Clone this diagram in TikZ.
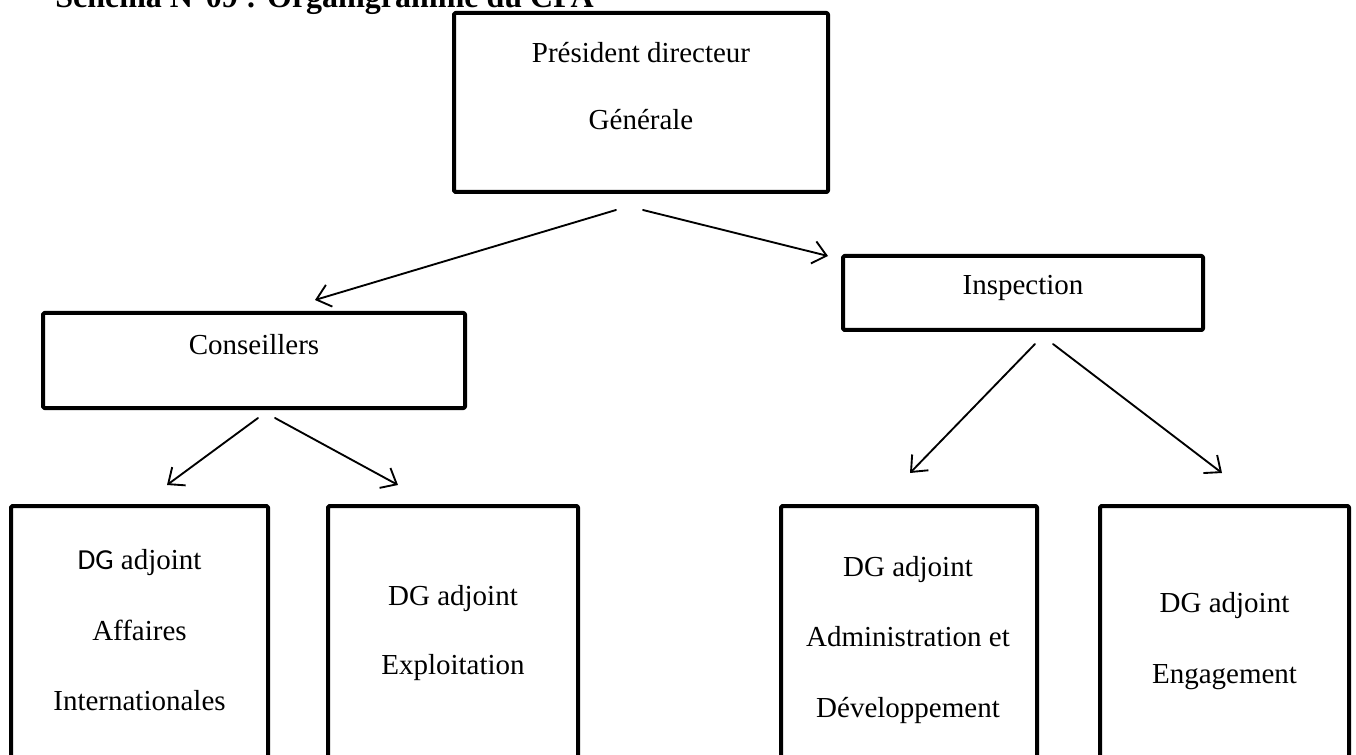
\documentclass[tikz,border=0pt]{standalone}
\usepackage{fontspec}
\setmainfont{Liberation Serif}
\newfontfamily\dgfont{Carlito}
\usetikzlibrary{arrows.meta,fit}
\begin{document}
\begin{tikzpicture}[x=0.75pt,y=-0.75pt,
  box/.style={draw, line width=3pt, line join=round, rounded corners=1pt, inner sep=0pt},
  lbl/.style={anchor=base, inner sep=0pt, font=\fontsize{21.75}{26}\selectfont},
  ttl/.style={anchor=base west, inner sep=0pt, font=\fontsize{24}{28}\selectfont\bfseries},
  link/.style={line width=1.4pt, line cap=round,
    -{Straight Barb[length=10pt,width=17pt,line width=1.4pt]}}
]
\useasboundingbox (0,0) rectangle (1356,755);
\clip (0,0) rectangle (1356,755);

% title
\node[ttl] (title) at (55,8) {Schéma N°09 : Organigramme du CPA};

% boxes
\node[box, fit={(454,13) (828,192)}] (pdg) {};
\node[box, fit={(43,313) (465,408)}] (cons) {};
\node[box, fit={(843,256) (1203,330)}] (insp) {};
\node[box, fit={(11,506) (268,800)}] (dgaff) {};
\node[box, fit={(328,506) (578,800)}] (dgexp) {};
\node[box, fit={(781,506) (1037,800)}] (dgadm) {};
\node[box, fit={(1100,506) (1349,800)}] (dgeng) {};

% labels
\node[lbl] (pdg1) at (641,63) {Président directeur};
\node[lbl] (pdg2) at (641,130) {Générale};
\node[lbl] (cons1) at (254,355) {Conseillers};
\node[lbl] (insp1) at (1023,295) {Inspection};
\node[lbl] (aff1) at (139.5,569) {{\dgfont DG} adjoint};
\node[lbl] (aff2) at (139.5,640) {Affaires};
\node[lbl] (aff3) at (139.5,710) {Internationales};
\node[lbl] (exp1) at (453,605) {DG adjoint};
\node[lbl] (exp2) at (453,674) {Exploitation};
\node[lbl] (adm1) at (908,576) {DG adjoint};
\node[lbl] (adm2) at (908,646) {Administration et};
\node[lbl] (adm3) at (908,717) {Développement};
\node[lbl] (eng1) at (1224.5,612) {DG adjoint};
\node[lbl] (eng2) at (1224.5,683) {Engagement};

% connector end points
\coordinate (pdgL) at (616,210);
\coordinate (pdgR) at (643,210);
\coordinate (consT) at (315,300);
\coordinate (inspT) at (828,256);
\coordinate (consL) at (258,418);
\coordinate (consR) at (275,418);
\coordinate (affT) at (167,485);
\coordinate (expT) at (398,485);
\coordinate (inspL) at (1035,344);
\coordinate (inspR) at (1053,344);
\coordinate (admT) at (910,473);
\coordinate (engT) at (1222,473);

% connectors
\draw[link] (pdgL) -- (consT);
\draw[link] (pdgR) -- (inspT);
\draw[link] (consL) -- (affT);
\draw[link] (consR) -- (expT);
\draw[link] (inspL) -- (admT);
\draw[link] (inspR) -- (engT);
\end{tikzpicture}
\end{document}
